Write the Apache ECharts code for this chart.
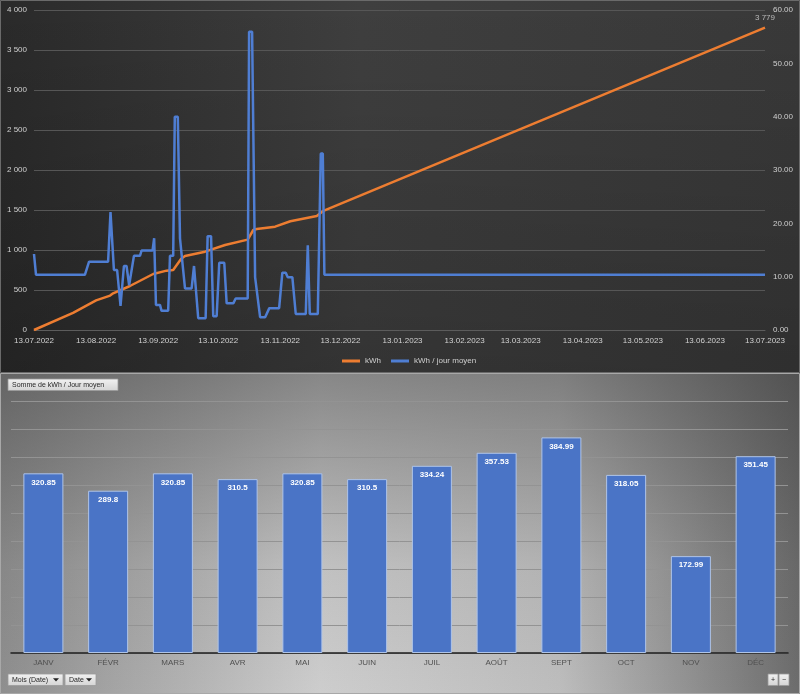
<!DOCTYPE html>
<html>
<head>
<meta charset="utf-8">
<script src="https://cdn.jsdelivr.net/npm/echarts@6/dist/echarts.min.js"></script>
<style>
html,body{margin:0;padding:0;background:#333;}
#main{width:800px;height:694px;}
</style>
</head>
<body>
<div id="main"></div>
<script>
// ---- Top chart: x tick labels (day offsets from 13.07.2022) ----
const xTickDays = [0, 31, 62, 92, 123, 153, 184, 215, 243, 274, 304, 335, 365];
const xTickLabels = ['13.07.2022','13.08.2022','13.09.2022','13.10.2022','13.11.2022','13.12.2022',
  '13.01.2023','13.02.2023','13.03.2023','13.04.2023','13.05.2023','13.06.2023','13.07.2023'];

// ---- kWh cumulative (orange, left axis) ----
const kwhDays = [0, 19.5, 31, 38, 39.5, 47.9, 59.5, 66.2, 69.5, 73.5, 75.4, 85.4, 95.4, 106.7, 109.5, 111.2, 120.4, 128, 141.2, 144.5, 365];
const kwhValues = [0, 215, 370, 430, 458, 550, 700, 742, 750, 890, 925, 979, 1062, 1130, 1250, 1262, 1292, 1360, 1425, 1490, 3779];

// ---- kWh / jour moyen (blue, right axis) ----
const avgDays = [0, 1, 25.4, 27.5, 37, 38.2, 39.9, 41.5, 43.2, 44.9, 46.2, 47.5, 49.9, 52.9, 53.7, 59.2, 60, 60.9, 62.9, 63.7, 67,
  67.9, 69.5, 70.3, 71.8, 72.9, 75.4, 78.7, 79.9, 82, 85.7, 86.7, 88.4, 89.5, 91.2, 92.5, 95, 96.2, 99.5, 100.7, 106.7,
  107.4, 108.9, 110.4, 111.2, 112.9, 115.4, 117.5, 122.4, 124, 125.7, 126.7, 129, 130.7, 135.7, 136.7, 137.7, 141.7,
  143.2, 144.2, 145, 365];
const avgValues = [14.25, 10.35, 10.35, 12.8, 12.8, 22.1, 11.25, 11.25, 4.5, 12, 12, 8.4, 13.9, 13.9, 14.9, 14.9, 17.2, 4.7, 4.7, 3.6, 3.6,
  13.9, 13.9, 40, 40, 17.2, 7.8, 7.8, 12, 2.2, 2.2, 17.6, 17.6, 2.6, 2.6, 12.6, 12.6, 5, 5, 5.9, 5.9,
  55.9, 55.9, 9.9, 9.9, 2.4, 2.4, 4.1, 4.1, 10.75, 10.75, 9.9, 9.9, 3, 3, 15.9, 3, 3,
  33.1, 33.1, 10.35, 10.35];

// ---- Bottom chart ----
const months = ['JANV','FÉVR','MARS','AVR','MAI','JUIN','JUIL','AOÛT','SEPT','OCT','NOV','DÉC'];
const monthValues = [320.85, 289.8, 320.85, 310.5, 320.85, 310.5, 334.24, 357.53, 384.99, 318.05, 172.99, 351.45];

function thousands(v){
  const n = Math.round(v);
  if (n >= 1000) return Math.floor(n/1000) + ' ' + String(n % 1000).padStart(3,'0');
  return String(n);
}

const FONT = 'Liberation Sans';
const chart = echarts.init(document.getElementById('main'), null, {renderer:'canvas'});

const kwhData = kwhDays.map((d,i)=>[d, kwhValues[i]]);
const avgData = avgDays.map((d,i)=>[d, avgValues[i]]);
const last = kwhData[kwhData.length-1];

function button(x, y, w, h, label, arrow, center){
  const els = [{
    type:'rect', shape:{x:x, y:y, width:w, height:h}, z:100,
    style:{fill:new echarts.graphic.LinearGradient(0,0,0,1,[{offset:0,color:'#f2f2f2'},{offset:1,color:'#d4d4d4'}]), stroke:'#9a9a9a', lineWidth:0.8}
  },{
    type:'text', x:center ? x+w/2 : x+4, y:y+h/2, z:101,
    style:{text:label, fontSize:7, fontFamily:FONT, fill:'#262626', verticalAlign:'middle', align:center ? 'center' : 'left'}
  }];
  if (arrow){
    els.push({type:'polygon', z:101, shape:{points:[[x+w-10,y+h/2-1.5],[x+w-4,y+h/2-1.5],[x+w-7,y+h/2+1.8]]}, style:{fill:'#222'}});
  }
  return els;
}

const graphics = [
  // top panel background
  {type:'rect', z:-100, shape:{x:0,y:0,width:800,height:373},
    style:{fill:new echarts.graphic.LinearGradient(0,0,1,0,[{offset:0,color:'#2a2a2a'},{offset:0.45,color:'#3f3f3f'},{offset:1,color:'#393939'}])}},
  {type:'rect', z:-99, shape:{x:0,y:0,width:800,height:373},
    style:{fill:new echarts.graphic.LinearGradient(0,0,0,1,[{offset:0,color:'rgba(0,0,0,0)'},{offset:1,color:'rgba(0,0,0,0.18)'}])}},
  {type:'rect', z:-98, shape:{x:0.5,y:0.5,width:799,height:372}, style:{fill:'none', stroke:'#6a6a6a', lineWidth:1}},
  // bottom panel background
  {type:'rect', z:-100, shape:{x:0,y:373,width:800,height:321},
    style:{fill:new echarts.graphic.LinearGradient(0,0,1,0,[{offset:0,color:'#8e8e8e'},{offset:0.4,color:'#cdcdcd'},{offset:0.7,color:'#bdbdbd'},{offset:1,color:'#6c6c6c'}])}},
  {type:'rect', z:-99, shape:{x:0,y:373,width:800,height:321},
    style:{fill:new echarts.graphic.LinearGradient(0,0,0,1,[{offset:0,color:'rgba(50,50,50,0.45)'},{offset:0.6,color:'rgba(50,50,50,0.08)'},{offset:1,color:'rgba(50,50,50,0)'}])}},
  {type:'rect', z:-98, shape:{x:0.5,y:373.5,width:799,height:320}, style:{fill:'none', stroke:'#a8a8a8', lineWidth:1}},
  ...button(8, 379, 110, 11.5, 'Somme de kWh / Jour moyen', false, false),
  ...button(8, 674, 55, 11.5, 'Mois (Date)', true, false),
  ...button(65, 674, 31, 11.5, 'Date', true, false),
  ...button(768, 674, 10, 11.5, '+', false, true),
  ...button(779, 674, 10, 11.5, '−', false, true)
];

const option = {
  backgroundColor: '#333',
  animation: false,
  textStyle: {fontFamily: FONT},
  graphic: graphics,
  legend: {
    left: 337, top: 352, itemWidth: 18, itemHeight: 3, itemGap: 10, icon: 'rect',
    textStyle: {color:'#cfcfcf', fontSize:8, fontFamily:FONT},
    data: ['kWh', 'kWh / jour moyen']
  },
  grid: [
    {left:34, top:10, width:731, height:320},
    {left:11, top:401, width:777, height:252}
  ],
  xAxis: [
    {type:'value', gridIndex:0, min:0, max:365,
      axisLine:{show:true, lineStyle:{color:'#5c5c5c'}},
      axisTick:{show:false}, splitLine:{show:false},
      axisLabel:{customValues: xTickDays, color:'#d2d2d2', fontSize:8, margin:7,
        formatter: v => { const i = xTickDays.indexOf(Math.round(v)); return i >= 0 ? xTickLabels[i] : ''; }}},
    {type:'category', gridIndex:1, data: months,
      axisLine:{show:true, lineStyle:{color:'#1e1e1e', width:1.5}},
      axisTick:{show:false},
      axisLabel:{color:'#505050', fontSize:8, margin:6}}
  ],
  yAxis: [
    {type:'value', gridIndex:0, min:0, max:4000, interval:500, position:'left',
      axisLine:{show:false}, axisTick:{show:false},
      splitLine:{show:true, lineStyle:{color:'#565656', width:1}},
      axisLabel:{color:'#cfcfcf', fontSize:8, margin:7, formatter: v => thousands(v)}},
    {type:'value', gridIndex:0, min:0, max:60, interval:10, position:'right',
      axisLine:{show:false}, axisTick:{show:false}, splitLine:{show:false},
      axisLabel:{color:'#cfcfcf', fontSize:8, margin:8, formatter: v => v.toFixed(2)}},
    {type:'value', gridIndex:1, min:0, max:450, interval:50,
      axisLine:{show:false}, axisTick:{show:false}, axisLabel:{show:false},
      splitLine:{show:true, lineStyle:{color:'#939393', width:1}}}
  ],
  series: [
    {name:'kWh', type:'line', xAxisIndex:0, yAxisIndex:0, data:kwhData,
      showSymbol:false, color:'#ED7D31', lineStyle:{width:2.5, color:'#ED7D31'}, z:2},
    {name:'kWh / jour moyen', type:'line', xAxisIndex:0, yAxisIndex:1, data:avgData,
      showSymbol:false, color:'#4F7ED3', lineStyle:{width:2.5, color:'#4F7ED3'}, z:3},
    {name:'lastLabel', type:'scatter', xAxisIndex:0, yAxisIndex:0, data:[last],
      symbolSize:0.1, itemStyle:{color:'rgba(0,0,0,0)'}, z:4,
      label:{show:true, position:'top', distance:6, color:'#d8d8d8', fontSize:8, fontFamily:FONT,
        formatter: p => thousands(p.value[1])}},
    {name:'Somme', type:'bar', xAxisIndex:1, yAxisIndex:2, data:monthValues,
      barWidth:40, itemStyle:{color:'#4A74C6', borderColor:'#AFC4E8', borderWidth:1},
      label:{show:true, position:'insideTop', distance:5, color:'#ffffff', fontWeight:'bold', fontSize:8, fontFamily:FONT}}
  ]
};
chart.setOption(option);
</script>
</body>
</html>
